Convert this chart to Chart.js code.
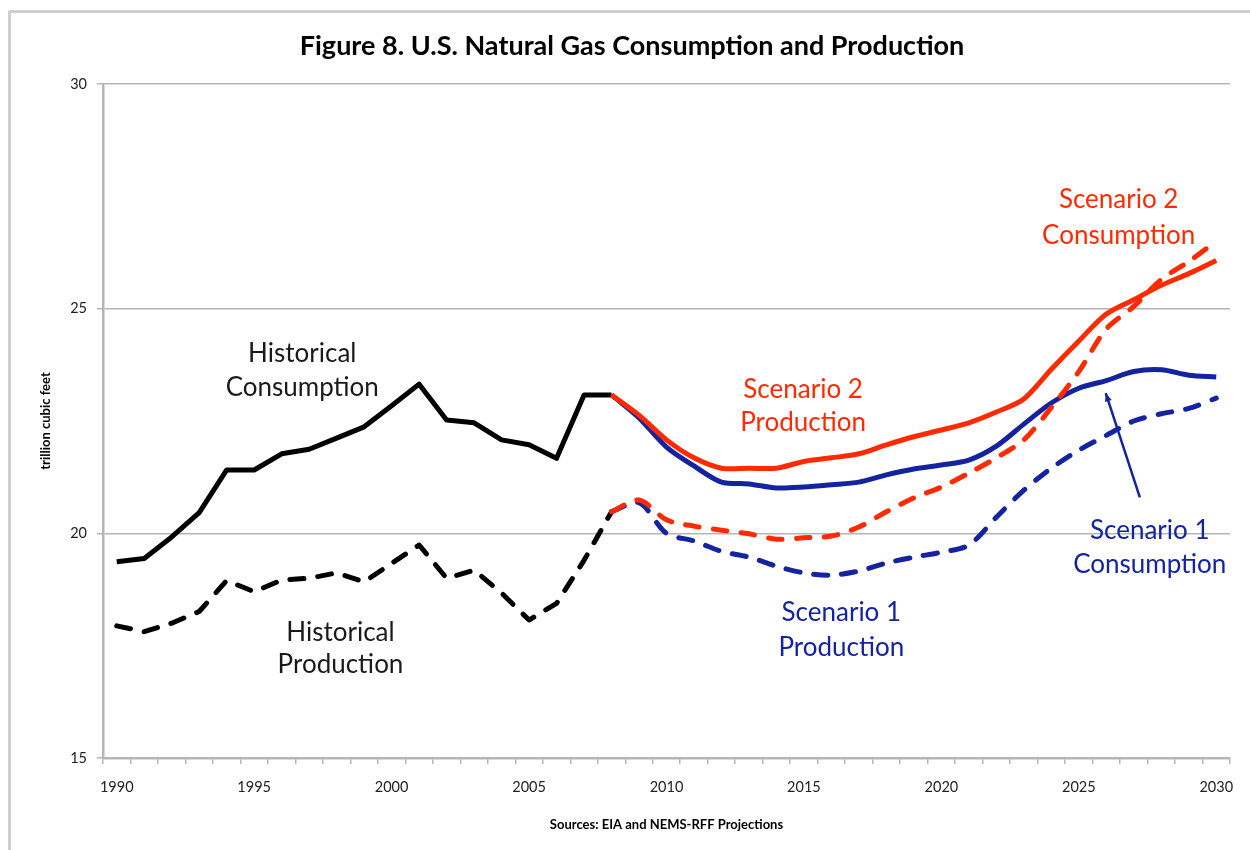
<!DOCTYPE html>
<html>
<head>
<meta charset="utf-8">
<script src="https://cdn.jsdelivr.net/npm/chart.js@4/dist/chart.umd.min.js"></script>
<style>
  html, body { margin: 0; padding: 0; background: #fff; }
  #wrap { position: relative; width: 1250px; height: 850px; overflow: hidden; }
  #frame { position: absolute; left: 8px; top: 10px; width: 1400px; height: 1000px;
           border-left: 3px solid #cfcfcf; border-top: 3px solid #cfcfcf; border-top-left-radius: 3px; }
  canvas { position: absolute; left: 0; top: 0; }
</style>
</head>
<body>
<div id="wrap">
  <div id="frame"></div>
  <canvas id="c" width="1250" height="850"></canvas>
</div>
<script>
// ---- data (trillion cubic feet) ----
const years = [];
for (let y = 1990; y <= 2030; y++) years.push(y);

// Historical 1990-2008
const histConsumption = [19.37, 19.44, 19.92, 20.46, 21.41, 21.41, 21.77, 21.87, 22.12, 22.37,
                         22.84, 23.32, 22.52, 22.46, 22.08, 21.97, 21.67, 23.08, 23.08];
const histProduction  = [17.94, 17.81, 18.00, 18.26, 18.95, 18.70, 18.96, 19.00, 19.12, 18.92,
                         19.33, 19.74, 19.00, 19.18, 18.67, 18.07, 18.44, 19.40, 20.48];
// Projections 2008-2030
const s2Consumption = [23.08, 22.63, 22.08, 21.68, 21.45, 21.45, 21.45, 21.60, 21.68, 21.77,
                       21.97, 22.15, 22.30, 22.46, 22.70, 22.99, 23.65, 24.28, 24.88, 25.20,
                       25.52, 25.78, 26.07];
const s2Production  = [20.48, 20.74, 20.30, 20.16, 20.07, 19.99, 19.87, 19.90, 19.94, 20.14,
                       20.48, 20.79, 21.03, 21.34, 21.68, 22.08, 22.80, 23.60, 24.55, 25.05,
                       25.65, 26.05, 26.50];
const s1Consumption = [23.08, 22.57, 21.92, 21.50, 21.14, 21.10, 21.01, 21.03, 21.08, 21.14,
                       21.30, 21.43, 21.52, 21.63, 21.94, 22.43, 22.90, 23.23, 23.40, 23.60,
                       23.64, 23.52, 23.48];
const s1Production  = [20.48, 20.68, 20.00, 19.83, 19.60, 19.47, 19.27, 19.12, 19.07, 19.16,
                       19.34, 19.47, 19.58, 19.74, 20.36, 20.96, 21.45, 21.85, 22.18, 22.50,
                       22.66, 22.78, 23.01];
const yTicks = [15, 20, 25, 30];
const chartTitle = 'Figure 8. U.S. Natural Gas Consumption and Production';

// ---- build series aligned to years ----
function histSeries(arr) { return years.map((y, i) => i < arr.length ? arr[i] : null); }
function projSeries(arr) { const s = years.indexOf(2008); return years.map((y, i) => i >= s ? arr[i - s] : null); }

const RED = '#ff2a00', BLUE = '#1424a0', BLACK = '#000000';
const FONT = 'Lato, "Open Sans", sans-serif';

// annotations in data coordinates (category index, value)
const notes = [
  { lines: ['Historical', 'Consumption'], x: 6.75, y: [23.99, 23.24], color: '#1a1a1a' },
  { lines: ['Historical', 'Production'],  x: 8.14, y: [17.80, 17.07], color: '#1a1a1a' },
  { lines: ['Scenario 2', 'Production'],  x: 24.97, y: [23.19, 22.46], color: RED },
  { lines: ['Scenario 2', 'Consumption'], x: 36.45, y: [27.42, 26.62], color: RED },
  { lines: ['Scenario 1', 'Production'],  x: 26.36, y: [18.23, 17.45], color: BLUE },
  { lines: ['Scenario 1', 'Consumption'], x: 37.58, y: [20.05, 19.30], color: BLUE }
];
const arrow = { from: [37.22, 20.80], to: [35.98, 23.12], color: BLUE };

const annotPlugin = {
  id: 'annot',
  afterDraw(chart) {
    const { ctx } = chart;
    ctx.save();
    ctx.font = 'bold 27px ' + FONT;
    ctx.fillStyle = '#000';
    ctx.textAlign = 'center';
    ctx.textBaseline = 'middle';
    ctx.fillText(chartTitle, 632, 46);
    ctx.restore();
  },
  afterDatasetsDraw(chart) {
    const { ctx, scales: { x, y } } = chart;
    ctx.save();
    ctx.font = '26px ' + FONT;
    ctx.textAlign = 'center';
    ctx.textBaseline = 'middle';
    notes.forEach(n => {
      ctx.fillStyle = n.color;
      n.lines.forEach((t, i) => ctx.fillText(t, x.getPixelForValue(n.x), y.getPixelForValue(n.y[i])));
    });
    // arrow
    const x1 = x.getPixelForValue(arrow.from[0]), y1 = y.getPixelForValue(arrow.from[1]);
    const x2 = x.getPixelForValue(arrow.to[0]), y2 = y.getPixelForValue(arrow.to[1]);
    ctx.strokeStyle = arrow.color; ctx.fillStyle = arrow.color; ctx.lineWidth = 2.5;
    ctx.beginPath(); ctx.moveTo(x1, y1); ctx.lineTo(x2, y2); ctx.stroke();
    const ang = Math.atan2(y2 - y1, x2 - x1), L = 9, W = 0.4;
    ctx.beginPath();
    ctx.moveTo(x2, y2);
    ctx.lineTo(x2 - L * Math.cos(ang - W), y2 - L * Math.sin(ang - W));
    ctx.lineTo(x2 - L * Math.cos(ang + W), y2 - L * Math.sin(ang + W));
    ctx.closePath(); ctx.fill();
    ctx.restore();
  }
};

function ds(label, data, color, dashed, smooth, order) {
  return {
    label, data, borderColor: color, backgroundColor: color, borderWidth: 5,
    borderDash: dashed ? [14, 14] : [], borderCapStyle: dashed ? 'round' : 'butt',
    borderJoinStyle: 'round', pointRadius: 0, tension: smooth ? 0.3 : 0, spanGaps: false,
    fill: false, order
  };
}

new Chart(document.getElementById('c'), {
  type: 'line',
  data: {
    labels: years,
    datasets: [
      ds('Historical Consumption', histSeries(histConsumption), BLACK, false, false, 2),
      ds('Historical Production', histSeries(histProduction), BLACK, true, false, 2),
      ds('Scenario 2 Consumption', projSeries(s2Consumption), RED, false, true, 1),
      ds('Scenario 2 Production', projSeries(s2Production), RED, true, true, 1),
      ds('Scenario 1 Consumption', projSeries(s1Consumption), BLUE, false, true, 3),
      ds('Scenario 1 Production', projSeries(s1Production), BLUE, true, true, 3)
    ]
  },
  options: {
    responsive: false,
    animation: false,
    devicePixelRatio: 1,
    layout: { padding: { left: 0, right: 20, top: 84, bottom: 0 } },
    plugins: {
      legend: { display: false },
      tooltip: { enabled: false },
      title: { display: false }
    },
    scales: {
      x: {
        type: 'category',
        offset: true,
        grid: { offset: true, drawOnChartArea: false, drawTicks: true, tickLength: 6, color: '#b5b5b5', lineWidth: 1.5 },
        border: { color: '#b5b5b5', width: 2.5 },
        ticks: {
          autoSkip: false, maxRotation: 0, minRotation: 0, padding: 15, color: '#222',
          font: { family: FONT, size: 14.5 },
          callback: (v, i) => (years[i] % 5 === 0 ? String(years[i]) : '')
        },
        title: {
          display: true, text: 'Sources: EIA and NEMS-RFF Projections', color: '#000',
          font: { family: FONT, size: 13, weight: 'bold' }, padding: { top: 0, bottom: 17 }
        },
        afterFit: s => { s.height = 92; }
      },
      y: {
        min: 15, max: 30,
        afterBuildTicks: s => { s.ticks = yTicks.map(v => ({ value: v })); },
        grid: { color: '#b5b5b5', lineWidth: 1.5, tickLength: 6, drawTicks: true },
        border: { color: '#b5b5b5', width: 2.5 },
        ticks: { padding: 10, color: '#222', font: { family: FONT, size: 14.5 } },
        title: {
          display: true, text: 'trillion cubic feet', color: '#000',
          font: { family: FONT, size: 13, weight: 'bold' }, padding: { top: 38, bottom: 0 }
        },
        afterFit: s => { s.width = 103; }
      }
    }
  },
  plugins: [annotPlugin]
});
</script>
</body>
</html>
